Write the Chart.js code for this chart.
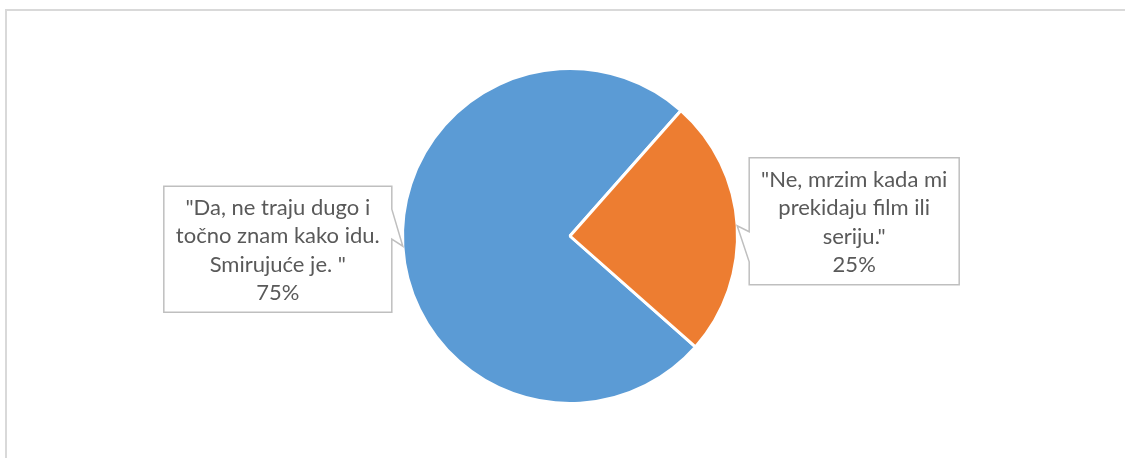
<!DOCTYPE html>
<html>
<head>
<meta charset="utf-8">
<script src="https://cdn.jsdelivr.net/npm/chart.js@4"></script>
<style>
  html, body { margin: 0; padding: 0; background: #ffffff; }
  #wrap { width: 1125px; height: 458px; }
</style>
</head>
<body>
<div id="wrap"><canvas id="c" width="1125" height="458"></canvas></div>
<script>
// ---- data ----
const categories = [
  '"Da, ne traju dugo i točno znam kako idu. Smirujuće je. "',
  '"Ne, mrzim kada mi prekidaju film ili seriju."'
];
const categoryLines = [
  ['"Da, ne traju dugo i', 'točno znam kako idu.', 'Smirujuće je. "'],
  ['"Ne, mrzim kada mi', 'prekidaju film ili', 'seriju."']
];
const values = [75, 25];
const colors = ['#5B9BD5', '#ED7D31'];

// ---- callout layout (styling only) ----
const calloutBoxes = [
  { w: 228, h: 126, dx: -11, dy: -60, b1: -37, b2: -7 },
  { w: 210, h: 127, dx: 12, dy: -68, b1: 6, b2: 36 }
];
const FONT = '22px Lato, "Open Sans", sans-serif';
const LINE_H = 28.5;

const frame = {
  id: 'frame',
  beforeDraw(chart) {
    const ctx = chart.ctx;
    ctx.save();
    ctx.strokeStyle = '#d9d9d9';
    ctx.lineWidth = 2;
    ctx.beginPath();
    ctx.moveTo(6, chart.height);
    ctx.lineTo(6, 10);
    ctx.lineTo(chart.width, 10);
    ctx.stroke();
    ctx.restore();
  }
};

const callouts = {
  id: 'callouts',
  afterDatasetsDraw(chart) {
    const ctx = chart.ctx;
    const meta = chart.getDatasetMeta(0);
    const total = values.reduce((a, b) => a + b, 0);
    meta.data.forEach((arc, i) => {
      const p = arc.getProps(['x', 'y', 'startAngle', 'endAngle', 'outerRadius'], true);
      const mid = (p.startAngle + p.endAngle) / 2;
      const tx = p.x + Math.cos(mid) * p.outerRadius;
      const ty = p.y + Math.sin(mid) * p.outerRadius;
      const b = calloutBoxes[i];
      const leftSide = Math.cos(mid) < 0;
      const top = ty + b.dy;
      const bottom = top + b.h;
      let left, right;
      ctx.save();
      ctx.beginPath();
      if (leftSide) {
        right = tx + b.dx; left = right - b.w;
        ctx.moveTo(left, top);
        ctx.lineTo(right, top);
        ctx.lineTo(right, ty + b.b1);
        ctx.lineTo(tx, ty);
        ctx.lineTo(right, ty + b.b2);
        ctx.lineTo(right, bottom);
        ctx.lineTo(left, bottom);
      } else {
        left = tx + b.dx; right = left + b.w;
        ctx.moveTo(left, top);
        ctx.lineTo(right, top);
        ctx.lineTo(right, bottom);
        ctx.lineTo(left, bottom);
        ctx.lineTo(left, ty + b.b2);
        ctx.lineTo(tx, ty);
        ctx.lineTo(left, ty + b.b1);
      }
      ctx.closePath();
      ctx.fillStyle = '#ffffff';
      ctx.fill();
      ctx.strokeStyle = '#bfbfbf';
      ctx.lineWidth = 1.5;
      ctx.stroke();

      const lines = categoryLines[i].concat([Math.round(values[i] / total * 100) + '%']);
      ctx.font = FONT;
      ctx.fillStyle = '#595959';
      ctx.textAlign = 'center';
      ctx.textBaseline = 'middle';
      const cx = (left + right) / 2;
      const cy = (top + bottom) / 2 + 1;
      const start = cy - (lines.length - 1) * LINE_H / 2;
      lines.forEach((ln, k) => ctx.fillText(ln, cx, start + k * LINE_H));
      ctx.restore();
    });
  }
};

new Chart(document.getElementById('c'), {
  type: 'pie',
  data: {
    labels: categories,
    datasets: [{
      data: values,
      backgroundColor: colors,
      borderColor: '#ffffff',
      borderWidth: 3
    }]
  },
  options: {
    responsive: false,
    animation: false,
    rotation: 131.5,
    layout: { padding: { top: 67, bottom: 53, left: 15, right: 0 } },
    plugins: {
      legend: { display: false },
      tooltip: { enabled: false }
    }
  },
  plugins: [frame, callouts]
});
</script>
</body>
</html>
